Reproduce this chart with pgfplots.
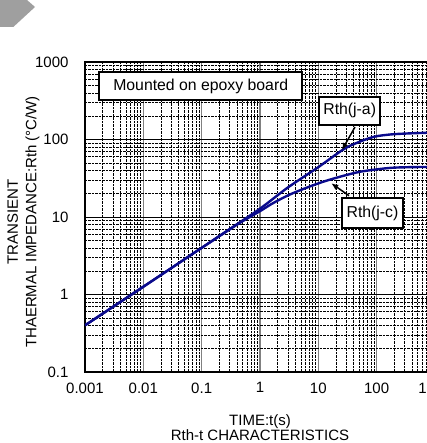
\documentclass[border=0pt]{standalone}
\usepackage{fontspec}
\setmainfont{Liberation Sans}
\usepackage{pgfplots}
\pgfplotsset{compat=1.18}
\usetikzlibrary{arrows.meta}
\definecolor{curve}{RGB}{10,10,140}
\begin{document}
\begin{tikzpicture}[x=1pt,y=1pt]
\fill[gray!75] (0,443) -- (27,443) -- (35,436) -- (13.3,416) -- (0,416) -- cycle;
\begin{axis}[
  at={(85pt,71pt)}, anchor=south west,
  scale only axis, width=350pt, height=310pt,
  xmode=log, ymode=log,
  xmin=0.001, xmax=1000, ymin=0.1, ymax=1000,
  xtick={0.001,0.01,0.1,1,10,100,1000},
  xticklabels={0.001,0.01,0.1,1,10,100,1000},
  ytick={0.1,1,10,100,1000},
  yticklabels={0.1,1,10,100,1000},
  tick label style={font=\fontsize{15}{15}\selectfont},
  yticklabel style={xshift=-13pt},
  xticklabel style={yshift=-7pt},
  major tick length=0pt, minor tick length=0pt,
  grid=both,
  major x grid style={gray, line width=1.3pt},
  major y grid style={black, line width=0.7pt},
  minor grid style={black, line width=0.5pt, dash pattern=on 2.5pt off 1pt},
  extra y ticks={1}, extra y tick labels={},
  extra y tick style={grid style={gray, line width=1.1pt}},
  axis line style={line width=2.5pt},
]
\addplot[curve, line width=2.4pt, smooth] coordinates {
 (0.001,0.4) (0.01,1.26) (0.1,4.0) (0.3,6.95) (1,12.8) (3,24) (10,44)
 (26.5,74) (45,90) (88,108) (170,116) (330,119.5) (700,122) (1000,122.5)};
\addplot[curve, line width=2.4pt, smooth] coordinates {
 (0.001,0.4) (0.01,1.26) (0.1,4.0) (0.3,6.9) (0.5,8.8) (1,11.9) (1.7,15.2)
 (3.3,19.6) (7.2,24.8) (13,29) (25,33.5) (45,37.5) (66,39.5) (170,43)
 (400,44) (1000,44.3)};
\end{axis}
\node[font=\fontsize{15}{18.5}\selectfont, rotate=90, align=center] at (23.5,221)
  {TRANSIENT\\THAERMAL IMPEDANCE:Rth (°C/W)};
\node[anchor=base, font=\fontsize{15}{15}\selectfont] at (260,17) {TIME:t(s)};
\node[anchor=base, font=\fontsize{15}{15}\selectfont] at (260,2.3) {Rth-t CHARACTERISTICS};
\node[draw, line width=2pt, fill=white, minimum width=202.7pt, minimum height=28pt,
  inner sep=0pt, font=\fontsize{15.8}{16}\selectfont] at (200.7,357) {Mounted on epoxy board};
\node[draw, line width=2pt, fill=white, minimum width=61.3pt, minimum height=28pt,
  inner sep=0pt, font=\fontsize{15.8}{16}\selectfont] at (349.7,332.3) {Rth(j-a)};
\node[draw, line width=2pt, fill=white, minimum width=60.4pt, minimum height=29.4pt,
  inner sep=0pt, font=\fontsize{15.8}{16}\selectfont] at (372.5,230) {Rth(j-c)};
\draw[line width=1.5pt, -{Latex[length=7pt,width=6pt]}] (355,316) -- (342,293);
\draw[line width=1.5pt, -{Latex[length=7pt,width=6pt]}] (349,247.3) -- (331.3,259.7);
\pgfresetboundingbox
\useasboundingbox (0,0) rectangle (426,443);
\end{tikzpicture}
\end{document}
